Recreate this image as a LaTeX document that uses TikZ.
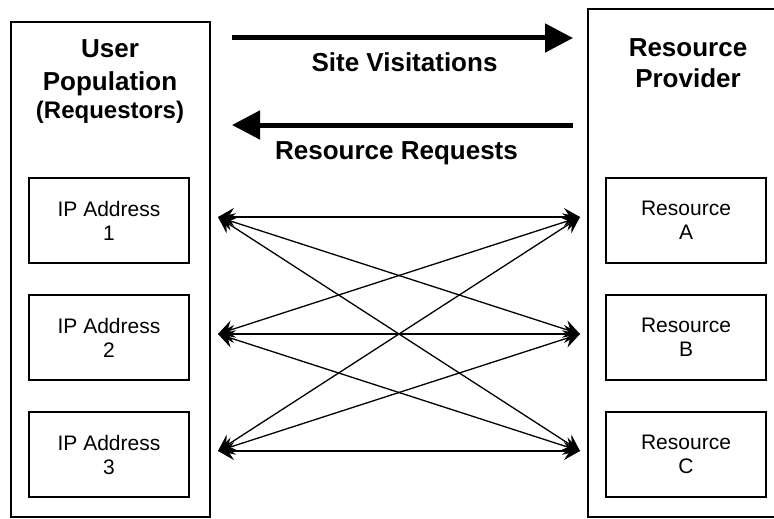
\documentclass[tikz,border=0pt]{standalone}
\usepackage{fontspec}
\setmainfont{Liberation Sans}
\usetikzlibrary{arrows.meta}

\begin{document}
\begin{tikzpicture}[x=1pt,y=-1pt,
    bigbox/.style={draw,line width=1.5pt,inner sep=0pt},
    smallbox/.style={draw,line width=1.8pt,minimum width=160pt,minimum height=85pt,
      align=center,font=\fontsize{21}{24}\selectfont},
    title/.style={anchor=base,font=\fontsize{26}{31}\selectfont\bfseries},
    link/.style={{Stealth[length=16pt,width=18pt,inset=6pt]}-{Stealth[length=16pt,width=18pt,inset=6pt]},
      line width=1.3pt},
    flow/.style={-{Triangle[length=28pt,width=28pt]},line width=5pt}]
  \useasboundingbox (0,0) rectangle (774,519);

  % the two parties
  \node[bigbox,minimum width=199pt,minimum height=495pt] (user) at (110.5,269.5) {};
  \node[bigbox,minimum width=202pt,minimum height=508pt] (provider) at (689,263) {};

  \node[title] (user1) at (110,58) {User};
  \node[title] (user2) at (110,90) {Population};
  \node[title,font=\fontsize{24}{28}\selectfont\bfseries] (user3) at (110,118) {(Requestors)};
  \node[title] (prov1) at (688,57) {Resource};
  \node[title] (prov2) at (688,88) {Provider};

  % boxes inside
  \foreach \i/\y in {1/220.5,2/337.5,3/454.5} {
    \node[smallbox] (ip\i) at (109,\y) {IP Address\\\i};
  }
  \foreach \r/\y in {A/220.5,B/337.5,C/454.5} {
    \node[smallbox] (res\r) at (686,\y) {Resource\\\r};
  }

  % main flows
  \coordinate (visitL) at (232,38);
  \coordinate (visitR) at (573,38);
  \coordinate (reqL) at (232,125);
  \coordinate (reqR) at (573,125);
  \draw[flow] (visitL) -- (visitR);
  \draw[flow] (reqR) -- (reqL);
  \node[title] (visit) at (404.5,72) {Site Visitations};
  \node[title] (req) at (396.5,159) {Resource Requests};

  % every address to every resource
  \foreach \i/\y in {1/217,2/334,3/451} {
    \coordinate (l\i) at (218,\y);
    \coordinate (r\i) at (580,\y);
  }
  \foreach \i in {1,2,3} {
    \foreach \j in {1,2,3} {
      \draw[link] (l\i) -- (r\j);
    }
  }
\end{tikzpicture}
\end{document}
